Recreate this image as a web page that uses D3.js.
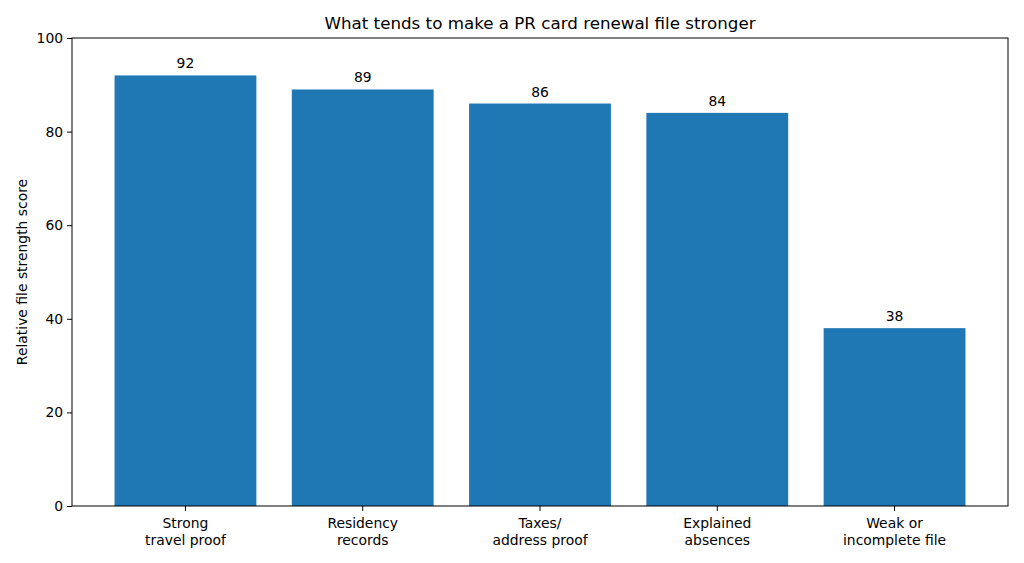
<!DOCTYPE html>
<html><head><meta charset="utf-8">
<script src="https://cdn.jsdelivr.net/npm/d3@7"></script>
<style>body{margin:0;background:#fff}svg{display:block;font-family:"DejaVu Sans",sans-serif}</style>
</head><body>
<svg id="c" width="1024" height="563"></svg>
<script>
const categories = ["Strong\ntravel proof","Residency\nrecords","Taxes/\naddress proof","Explained\nabsences","Weak or\nincomplete file"];
const values = [92, 89, 86, 84, 38];
const yTicks = [0, 20, 40, 60, 80, 100];
const title = "What tends to make a PR card renewal file stronger";
const yLabel = "Relative file strength score";

const svg = d3.select("#c");
const L = 72, R = 1008, T = 38, B = 506;
const x = d3.scaleLinear().domain([-0.64, categories.length - 1 + 0.64]).range([L, R]);
const y = d3.scaleLinear().domain([0, 100]).range([B, T]);
const bw = x(0.8) - x(0);

svg.append("g").selectAll("rect").data(values).join("rect")
  .attr("x", (d, i) => x(i - 0.4)).attr("width", bw)
  .attr("y", d => y(d)).attr("height", d => y(0) - y(d))
  .attr("fill", "#1f77b4");

svg.append("g").selectAll("text").data(values).join("text")
  .attr("x", (d, i) => x(i)).attr("y", d => y(d) - 7)
  .attr("text-anchor", "middle").attr("font-size", 13.9).attr("fill", "#000")
  .text(d => d);

const yAxis = d3.axisLeft(y).tickValues(yTicks).tickSize(4.9).tickPadding(4);
const gy = svg.append("g").attr("transform", `translate(${L},0)`).call(yAxis);
gy.select(".domain").remove();
gy.selectAll("text").attr("font-size", 13.9).attr("font-family", "DejaVu Sans").attr("fill", "#000");
gy.selectAll("line").attr("stroke", "#000").attr("stroke-width", 1);

const gx = svg.append("g");
categories.forEach((c, i) => {
  gx.append("line").attr("x1", x(i)).attr("x2", x(i)).attr("y1", B).attr("y2", B + 4.9).attr("stroke", "#000");
  const t = gx.append("text").attr("text-anchor", "middle").attr("font-size", 13.9).attr("fill", "#000");
  c.split("\n").forEach((ln, j) => {
    t.append("tspan").attr("x", x(i)).attr("y", B + 22 + j * 17).text(ln);
  });
});

svg.append("rect").attr("x", L).attr("y", T).attr("width", R - L).attr("height", B - T)
  .attr("fill", "none").attr("stroke", "#000").attr("stroke-width", 1);

svg.append("text").attr("x", (L + R) / 2).attr("y", 29).attr("text-anchor", "middle")
  .attr("font-size", 16.7).attr("fill", "#000").text(title);

svg.append("text").attr("transform", `translate(27,${(T + B) / 2}) rotate(-90)`)
  .attr("text-anchor", "middle").attr("font-size", 13.9).attr("fill", "#000").text(yLabel);
</script>
</body></html>
